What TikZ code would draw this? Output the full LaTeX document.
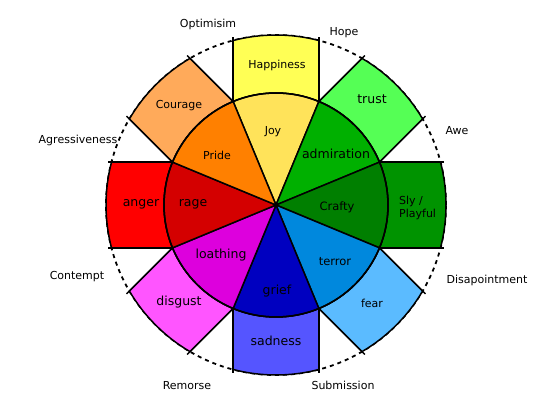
\documentclass[tikz,border=0pt]{standalone}
\usepackage{fontspec}
\setmainfont{DejaVu Sans}
\usetikzlibrary{calc}
\definecolor{cJoy}{HTML}{FFE35A}
\definecolor{cHap}{HTML}{FFFF55}
\definecolor{cPride}{HTML}{FF8000}
\definecolor{cCour}{HTML}{FFAA5A}
\definecolor{cRage}{HTML}{D40000}
\definecolor{cAnger}{HTML}{FF0000}
\definecolor{cLoath}{HTML}{DD00DD}
\definecolor{cDisg}{HTML}{FF55FF}
\definecolor{cGrief}{HTML}{0000C0}
\definecolor{cSad}{HTML}{5555FF}
\definecolor{cTerror}{HTML}{0088DD}
\definecolor{cFear}{HTML}{5BBBFF}
\definecolor{cCrafty}{HTML}{007F00}
\definecolor{cSly}{HTML}{009300}
\definecolor{cAdm}{HTML}{00B000}
\definecolor{cTrust}{HTML}{55FF55}
\newcommand\mypetal[2]{%
  \filldraw[shapeline, fill=#2] ($(C)+(#1-22.5:112)$) -- ($(C)+(#1-14.6:170)$)
    arc[start angle=#1-14.6, end angle=#1+14.6, radius=170]
    -- ($(C)+(#1+22.5:112)$)
    arc[start angle=#1+22.5, end angle=#1-22.5, radius=112] -- cycle;
  \draw[shapeline] ($(C)+(#1-22.5:112)$) -- ++(#1:65);
  \draw[shapeline] ($(C)+(#1+22.5:112)$) -- ++(#1:65);
}
\newcommand\mywedge[2]{%
  \filldraw[shapeline, fill=#2] (C) -- ($(C)+(#1-22.5:112)$)
    arc[start angle=#1-22.5, end angle=#1+22.5, radius=112] -- cycle;
}
\tikzset{
  shapeline/.style={draw=black, line width=1.5pt, line join=miter},
  outer/.style={font=\fontsize{11}{13}\selectfont, inner sep=0pt},
  lab/.style={font=\fontsize{11}{13}\selectfont, inner sep=0pt},
  midlab/.style={font=\fontsize{11.5}{13}\selectfont, inner sep=0pt},
  biglab/.style={font=\fontsize{12.5}{14}\selectfont, inner sep=0pt},
}
\begin{document}
\begin{tikzpicture}[x=1pt,y=1pt]
\useasboundingbox (0,0) rectangle (536,402);
\coordinate (C) at (276,197);
\draw[line width=1.8pt, dash pattern=on 4pt off 4pt] (C) circle[radius=170];
\mypetal{90}{cHap}
\mypetal{45}{cTrust}
\mypetal{0}{cSly}
\mypetal{-45}{cFear}
\mypetal{-90}{cSad}
\mypetal{-135}{cDisg}
\mypetal{180}{cAnger}
\mypetal{135}{cCour}
\mywedge{90}{cJoy}
\mywedge{45}{cAdm}
\mywedge{0}{cCrafty}
\mywedge{-45}{cTerror}
\mywedge{-90}{cGrief}
\mywedge{-135}{cLoath}
\mywedge{180}{cRage}
\mywedge{135}{cPride}
\draw[shapeline] (C) circle[radius=112];
% outer labels
\node[outer] (opt) at (208,378) {Optimisim};
\node[outer] (hope) at (344,369) {Hope};
\node[outer] (agr) at (78,262) {Agressiveness};
\node[outer] (con) at (77,125) {Contempt};
\node[outer] (awe) at (457,271) {Awe};
\node[outer] (dis) at (487,122) {Disapointment};
\node[outer] (sub) at (343,17) {Submission};
\node[outer] (rem) at (187,16) {Remorse};
% petal labels
\node[lab] (hap) at (277,337) {Happiness};
\node[lab] (cour) at (179,296) {Courage};
\node[biglab] (trust) at (372,303) {trust};
\node[biglab] (anger) at (141,198) {anger};
\node[lab, align=left, anchor=west] (sly) at (399,194.5) {Sly /\\Playful};
\node[lab] (fear) at (372,99) {fear};
\node[biglab] (sad) at (276,61) {sadness};
\node[biglab] (disg) at (179,100) {disgust};
% wedge labels
\node[lab] (joy) at (273,270) {Joy};
\node[lab] (pride) at (217,247) {Pride};
\node[biglab] (adm) at (336,248) {admiration};
\node[midlab] (crafty) at (337,195) {Crafty};
\node[biglab] (rage) at (193,198) {rage};
\node[biglab] (loath) at (221,147) {loathing};
\node[midlab] (terror) at (335,140) {terror};
\node[biglab] (grief) at (277,111) {grief};
\end{tikzpicture}
\end{document}
